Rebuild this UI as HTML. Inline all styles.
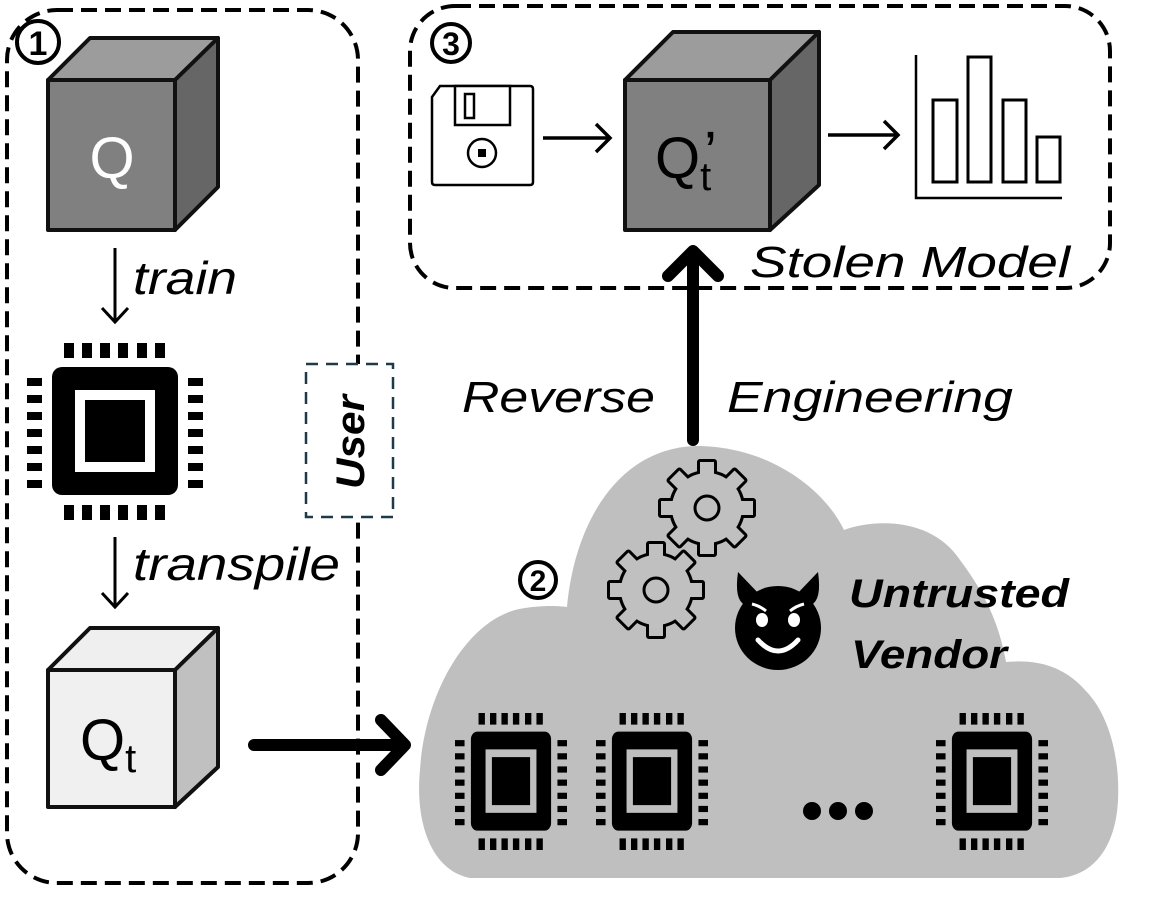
<!DOCTYPE html>
<html><head><meta charset="utf-8"><style>
html,body{margin:0;padding:0;background:#fff;}
svg{display:block;}
text{font-family:"Liberation Sans",sans-serif;}
</style></head><body>
<svg width="1163" height="907" viewBox="0 0 1163 907" xmlns="http://www.w3.org/2000/svg">
<defs>
<symbol id="chip" viewBox="0 0 176 177" preserveAspectRatio="none">
  <g fill="#000">
    <rect x="37" y="0" width="10" height="15"/><rect x="55" y="0" width="10" height="15"/><rect x="73" y="0" width="10" height="15"/><rect x="91" y="0" width="10" height="15"/><rect x="110" y="0" width="10" height="15"/><rect x="128" y="0" width="10" height="15"/>
    <rect x="37" y="162" width="10" height="15"/><rect x="55" y="162" width="10" height="15"/><rect x="73" y="162" width="10" height="15"/><rect x="91" y="162" width="10" height="15"/><rect x="110" y="162" width="10" height="15"/><rect x="128" y="162" width="10" height="15"/>
    <rect x="0" y="35" width="15" height="8"/><rect x="0" y="52" width="15" height="8"/><rect x="0" y="69" width="15" height="8"/><rect x="0" y="86" width="15" height="8"/><rect x="0" y="103" width="15" height="8"/><rect x="0" y="120" width="15" height="8"/><rect x="0" y="137" width="15" height="8"/>
    <rect x="161" y="35" width="15" height="8"/><rect x="161" y="52" width="15" height="8"/><rect x="161" y="69" width="15" height="8"/><rect x="161" y="86" width="15" height="8"/><rect x="161" y="103" width="15" height="8"/><rect x="161" y="120" width="15" height="8"/><rect x="161" y="137" width="15" height="8"/>
    <rect x="25" y="24" width="126" height="128" rx="10"/>
  </g>
  <rect x="48" y="47" width="80" height="82" fill="currentColor"/>
  <rect x="58" y="57" width="60" height="62" fill="#000"/>
</symbol>
<g id="gearshape">
  <circle r="35"/>
  <rect x="-7" y="-46" width="14" height="16" transform="rotate(0)"/>
  <rect x="-7" y="-46" width="14" height="16" transform="rotate(45)"/>
  <rect x="-7" y="-46" width="14" height="16" transform="rotate(90)"/>
  <rect x="-7" y="-46" width="14" height="16" transform="rotate(135)"/>
  <rect x="-7" y="-46" width="14" height="16" transform="rotate(180)"/>
  <rect x="-7" y="-46" width="14" height="16" transform="rotate(225)"/>
  <rect x="-7" y="-46" width="14" height="16" transform="rotate(270)"/>
  <rect x="-7" y="-46" width="14" height="16" transform="rotate(315)"/>
</g>
<g id="gear">
  <use href="#gearshape" fill="#000" stroke="#000" stroke-width="6" stroke-linejoin="round"/>
  <use href="#gearshape" fill="#c0c0c0"/>
  <circle r="12" fill="none" stroke="#000" stroke-width="3"/>
</g>
</defs>

<path d="M470 878 C430 870 415 820 420 770 C425 690 470 615 525 608 C545 605 560 606 567 607 C575 520 620 448 696 446 C770 446 825 490 844 530 C870 520 930 515 960 560 C990 600 1000 630 1006 662 C1030 660 1060 662 1085 690 C1110 715 1120 760 1118 800 C1116 845 1095 875 1060 878 Z" fill="#bfbfbf"/>

<rect x="7" y="10" width="351" height="873" rx="50" fill="none" stroke="#000" stroke-width="4" stroke-dasharray="16 8"/>
<rect x="306" y="364" width="87" height="153" fill="#fff" stroke="#1e3a48" stroke-width="2.5" stroke-dasharray="12 8"/>
<text transform="translate(364,442) rotate(-90)" text-anchor="middle" font-size="40" font-weight="bold" font-style="italic" fill="#000" textLength="94" lengthAdjust="spacingAndGlyphs">User</text>

<circle cx="38" cy="42" r="21" fill="#fff" stroke="#000" stroke-width="4"/>
<text x="38" y="55" text-anchor="middle" font-size="34" font-weight="bold" fill="#000">1</text>

<g stroke="#111" stroke-width="4" stroke-linejoin="round">
  <polygon points="48,80 90,38 218,38 175,80" fill="#9c9c9c"/>
  <polygon points="175,80 218,38 218,187 175,230" fill="#666"/>
  <rect x="48" y="80" width="127" height="150" fill="#808080"/>
</g>
<text x="112" y="178" text-anchor="middle" font-size="58" fill="#fff">Q</text>

<line x1="115" y1="248" x2="115" y2="320" stroke="#000" stroke-width="3"/>
<polyline points="102,308 115,322 128,308" fill="none" stroke="#000" stroke-width="3"/>
<text x="133" y="294" font-size="46" font-style="italic" textLength="104" lengthAdjust="spacingAndGlyphs">train</text>

<use href="#chip" x="27" y="343" width="176" height="177" color="#fff"/>

<line x1="115" y1="537" x2="115" y2="605" stroke="#000" stroke-width="3"/>
<polyline points="102,593 115,607 128,593" fill="none" stroke="#000" stroke-width="3"/>
<text x="133" y="580" font-size="46" font-style="italic" textLength="207" lengthAdjust="spacingAndGlyphs">transpile</text>

<g stroke="#111" stroke-width="4" stroke-linejoin="round">
  <polygon points="48,670 90,628 218,628 175,670" fill="#efefef"/>
  <polygon points="175,670 218,628 218,767 175,807" fill="#c0c0c0"/>
  <rect x="48" y="670" width="127" height="137" fill="#f0f0f0"/>
</g>
<text x="80" y="760" font-size="58" fill="#000">Q<tspan font-size="40" dy="12">t</tspan></text>

<line x1="254" y1="745" x2="398" y2="745" stroke="#000" stroke-width="12" stroke-linecap="round"/>
<polyline points="381,720 405,745 381,770" fill="none" stroke="#000" stroke-width="12" stroke-linecap="round" stroke-linejoin="round"/>

<rect x="410" y="6" width="700" height="282" rx="45" fill="none" stroke="#000" stroke-width="4" stroke-dasharray="16 8"/>
<circle cx="451" cy="43" r="19" fill="#fff" stroke="#000" stroke-width="4"/>
<text x="451" y="55" text-anchor="middle" font-size="32" font-weight="bold">3</text>

<path d="M440 86 L530 86 Q533 86 533 89 L533 182 Q533 185 530 185 L435 185 Q432 185 432 182 L432 97 Z" fill="#fff" stroke="#000" stroke-width="2.5"/>
<rect x="455" y="86" width="55" height="39" fill="#fff" stroke="#000" stroke-width="2.5"/>
<rect x="465" y="94" width="9" height="24" fill="none" stroke="#000" stroke-width="2.5"/>
<circle cx="482" cy="153" r="14" fill="none" stroke="#000" stroke-width="2.5"/>
<rect x="478" y="149" width="8" height="8" fill="#000"/>

<line x1="543" y1="138" x2="608" y2="138" stroke="#000" stroke-width="3.5"/>
<polyline points="596,124 610,138 596,152" fill="none" stroke="#000" stroke-width="3.5"/>

<g stroke="#111" stroke-width="4" stroke-linejoin="round">
  <polygon points="625,80 673,32 819,32 770,80" fill="#9c9c9c"/>
  <polygon points="770,80 819,32 819,185 770,230" fill="#666"/>
  <rect x="625" y="80" width="145" height="150" fill="#808080"/>
</g>
<text x="655" y="178" font-size="58" fill="#000">Q<tspan font-size="40" dy="12">t</tspan></text>
<text x="704" y="172" font-size="58" fill="#000">’</text>

<line x1="828" y1="135" x2="896" y2="135" stroke="#000" stroke-width="3.5"/>
<polyline points="884,121 898,135 884,149" fill="none" stroke="#000" stroke-width="3.5"/>

<polyline points="916,55 916,198 1062,198" fill="none" stroke="#000" stroke-width="2.5"/>
<g fill="#fff" stroke="#000" stroke-width="3">
  <rect x="933" y="100" width="24" height="82"/>
  <rect x="968" y="57" width="23" height="125"/>
  <rect x="1003" y="100" width="23" height="82"/>
  <rect x="1037" y="137" width="23" height="45"/>
</g>
<text x="750" y="277" font-size="44" font-style="italic" textLength="320" lengthAdjust="spacingAndGlyphs">Stolen Model</text>

<line x1="693" y1="440" x2="693" y2="258" stroke="#000" stroke-width="12" stroke-linecap="round"/>
<polyline points="668,276 693,251 718,276" fill="none" stroke="#000" stroke-width="12" stroke-linecap="round" stroke-linejoin="round"/>
<text x="462" y="412" font-size="44" font-style="italic" textLength="193" lengthAdjust="spacingAndGlyphs">Reverse</text>
<text x="727" y="412" font-size="44" font-style="italic" textLength="286" lengthAdjust="spacingAndGlyphs">Engineering</text>

<circle cx="538" cy="580" r="18" fill="#fff" stroke="#000" stroke-width="4"/>
<text x="538" y="591" text-anchor="middle" font-size="30" font-weight="bold">2</text>

<use href="#gear" transform="translate(707,508)"/>
<use href="#gear" transform="translate(656,590)"/>

<g>
  <path d="M738 572 Q734 600 745 605 L760 595 Z" fill="#000"/>
  <path d="M818 572 Q822 600 811 605 L796 595 Z" fill="#000"/>
  <ellipse cx="778" cy="628" rx="43" ry="42" fill="#000"/>
  <ellipse cx="762" cy="620" rx="6" ry="7" fill="#fff"/>
  <ellipse cx="794" cy="620" rx="6" ry="7" fill="#fff"/>
  <path d="M752 604 Q760 606 766 611" stroke="#fff" stroke-width="3" fill="none"/>
  <path d="M804 604 Q796 606 790 611" stroke="#fff" stroke-width="3" fill="none"/>
  <path d="M758 640 Q778 662 798 640" stroke="#fff" stroke-width="5" fill="none" stroke-linecap="round"/>
</g>
<text x="849" y="607" font-size="40" font-weight="bold" font-style="italic" textLength="220" lengthAdjust="spacingAndGlyphs">Untrusted</text>
<text x="851" y="668" font-size="40" font-weight="bold" font-style="italic" textLength="156" lengthAdjust="spacingAndGlyphs">Vendor</text>

<use href="#chip" x="455" y="713" width="112" height="137" color="#bfbfbf"/>
<use href="#chip" x="596" y="713" width="112" height="137" color="#bfbfbf"/>
<use href="#chip" x="936" y="713" width="112" height="137" color="#bfbfbf"/>
<circle cx="812" cy="811" r="9" fill="#000"/>
<circle cx="838" cy="811" r="9" fill="#000"/>
<circle cx="864" cy="811" r="9" fill="#000"/>
</svg>
</body></html>
